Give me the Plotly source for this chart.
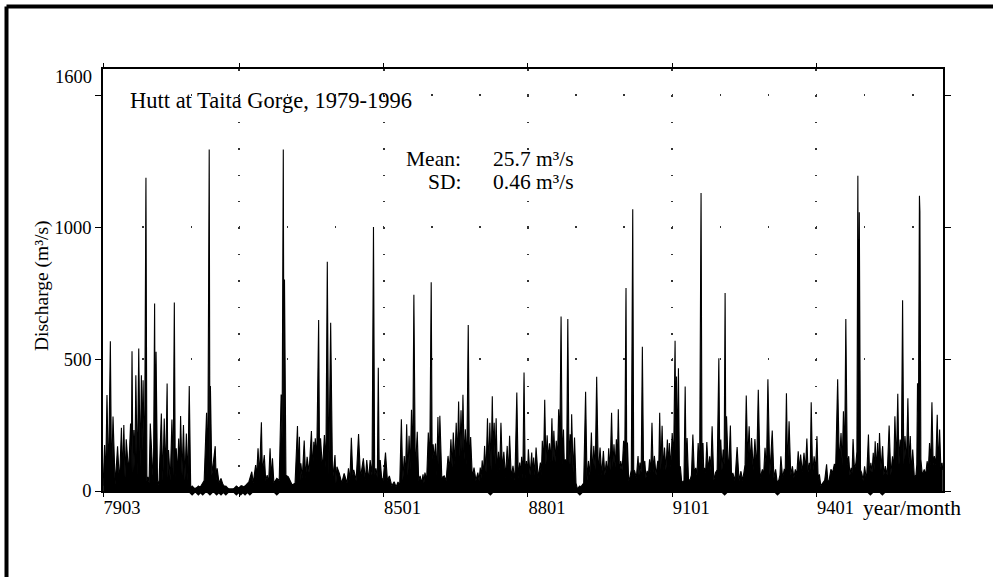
import plotly.graph_objects as go

# ---------------- data ----------------
# decimal year, daily discharge (m3/s): peaks and the low flows between them
years_a = [1979.17, 1979.20, 1979.22, 1979.25, 1979.28, 1979.32, 1979.345, 1979.375, 1979.42, 1979.47,
           1979.51, 1979.55, 1979.575, 1979.60, 1979.625, 1979.65, 1979.70, 1979.74, 1979.755, 1979.77,
           1979.79, 1979.81, 1979.83, 1979.85, 1979.88, 1979.91, 1979.94, 1979.965, 1979.98, 1980.00,
           1980.03, 1980.06, 1980.08, 1980.10, 1980.125, 1980.15, 1980.19, 1980.215, 1980.24, 1980.255,
           1980.27, 1980.30, 1980.33, 1980.38, 1980.41, 1980.44, 1980.47, 1980.50, 1980.515, 1980.53,
           1980.565, 1980.60, 1980.625, 1980.65, 1980.67, 1980.69, 1980.715, 1980.74, 1980.76, 1980.78,
           1980.81, 1980.84, 1980.87, 1980.90, 1980.93, 1980.96, 1980.99, 1981.05, 1981.12, 1981.20,
           1981.27, 1981.32, 1981.345, 1981.375, 1981.39, 1981.40, 1981.43, 1981.50, 1981.52, 1981.54,
           1981.58, 1981.62, 1981.66, 1981.70, 1981.73]
flow_a = [20, 174, 30, 364, 40, 568, 50, 282, 25, 170,
          30, 240, 60, 250, 50, 196, 70, 256, 80, 530,
          70, 231, 90, 439, 60, 540, 90, 439, 150, 420,
          80, 1188, 40, 54, 30, 256, 111, 30, 711, 60,
          528, 40, 23, 294, 40, 275, 60, 408, 50, 155,
          40, 271, 60, 715, 50, 162, 60, 199, 70, 284,
          60, 250, 40, 218, 40, 398, 15, 8, 12, 18,
          40, 297, 60, 1295, 100, 398, 60, 170, 40, 86,
          30, 48, 25, 16, 10]

years_b = [1981.92, 1981.96, 1982.00, 1982.05, 1982.10, 1982.15, 1982.20, 1982.26, 1982.29, 1982.34,
           1982.36, 1982.39, 1982.42, 1982.46, 1982.48, 1982.52, 1982.55, 1982.58, 1982.61, 1982.64,
           1982.665, 1982.69, 1982.72, 1982.78, 1982.83, 1982.87, 1982.89, 1982.915, 1982.93, 1982.94,
           1982.97, 1983.02, 1983.10, 1983.16, 1983.21, 1983.23, 1983.25, 1983.265, 1983.28, 1983.31,
           1983.35, 1983.38, 1983.41, 1983.45, 1983.50, 1983.525, 1983.55, 1983.565, 1983.58, 1983.61,
           1983.65, 1983.67, 1983.69, 1983.73, 1983.77, 1983.80, 1983.83, 1983.86, 1983.90, 1983.94,
           1983.99, 1984.01, 1984.03, 1984.08, 1984.13, 1984.18, 1984.24, 1984.27, 1984.30, 1984.33,
           1984.36, 1984.38, 1984.43, 1984.48, 1984.52, 1984.58, 1984.62, 1984.65, 1984.69, 1984.72,
           1984.76, 1984.79, 1984.815, 1984.84, 1984.87, 1984.89, 1984.91, 1984.93, 1984.96, 1984.99]
flow_b = [10, 15, 10, 20, 15, 25, 35, 73, 30, 98,
          50, 162, 60, 261, 70, 136, 40, 60, 30, 162,
          50, 124, 30, 48, 40, 366, 200, 1295, 250, 802,
          60, 54, 23, 30, 246, 60, 206, 40, 105, 50,
          191, 50, 130, 70, 227, 80, 187, 100, 200, 120,
          648, 100, 200, 80, 212, 90, 869, 60, 638, 40,
          136, 30, 92, 67, 30, 67, 30, 86, 40, 202,
          60, 80, 40, 216, 50, 124, 40, 117, 40, 117,
          60, 1001, 60, 86, 50, 467, 60, 117, 50, 40]

years_c = [1985.04, 1985.08, 1985.12, 1985.17, 1985.22, 1985.26, 1985.30, 1985.335, 1985.37, 1985.40,
           1985.43, 1985.455, 1985.48, 1985.505, 1985.53, 1985.555, 1985.58, 1985.605, 1985.63, 1985.66,
           1985.70, 1985.73, 1985.76, 1985.79, 1985.82, 1985.84, 1985.86, 1985.895, 1985.93, 1985.96,
           1985.99, 1986.01, 1986.03, 1986.055, 1986.08, 1986.105, 1986.13, 1986.15, 1986.17, 1986.21,
           1986.26, 1986.30, 1986.34, 1986.37, 1986.40, 1986.425, 1986.45, 1986.48, 1986.51, 1986.535,
           1986.56, 1986.585, 1986.61, 1986.63, 1986.65, 1986.675, 1986.70, 1986.73, 1986.76, 1986.785,
           1986.81, 1986.845, 1986.88, 1986.92, 1986.96, 1986.985, 1987.01, 1987.03, 1987.05, 1987.075,
           1987.10, 1987.13, 1987.16, 1987.185, 1987.21, 1987.235, 1987.26, 1987.28, 1987.30, 1987.32,
           1987.34, 1987.365, 1987.39, 1987.415, 1987.44, 1987.47, 1987.50, 1987.535, 1987.57, 1987.595,
           1987.62, 1987.655, 1987.69, 1987.73, 1987.77, 1987.80, 1987.83, 1987.85, 1987.87, 1987.895,
           1987.92, 1987.945, 1987.97, 1987.99]
flow_c = [146, 40, 57, 20, 35, 15, 34, 20, 272, 40,
          133, 50, 253, 60, 209, 80, 308, 100, 744, 70,
          225, 40, 57, 30, 63, 30, 70, 40, 222, 110,
          791, 120, 177, 120, 180, 60, 281, 100, 285, 50,
          57, 40, 133, 80, 196, 90, 222, 100, 259, 120,
          339, 130, 306, 150, 365, 120, 234, 100, 629, 80,
          205, 50, 89, 40, 70, 40, 89, 50, 116, 60,
          171, 70, 276, 90, 259, 80, 359, 130, 259, 100,
          276, 70, 149, 80, 259, 80, 149, 50, 171, 60,
          209, 50, 95, 40, 373, 50, 108, 60, 130, 50,
          449, 50, 114, 60]

years_d = [1988.01, 1988.045, 1988.08, 1988.10, 1988.12, 1988.145, 1988.17, 1988.215, 1988.26, 1988.28,
           1988.30, 1988.325, 1988.35, 1988.375, 1988.40, 1988.425, 1988.45, 1988.475, 1988.50, 1988.52,
           1988.54, 1988.565, 1988.59, 1988.615, 1988.64, 1988.665, 1988.69, 1988.715, 1988.74, 1988.76,
           1988.78, 1988.805, 1988.83, 1988.855, 1988.88, 1988.895, 1988.91, 1988.94, 1988.97, 1989.00,
           1989.03, 1989.08, 1989.12, 1989.16, 1989.20, 1989.23, 1989.26, 1989.29, 1989.32, 1989.345,
           1989.37, 1989.40, 1989.43, 1989.465, 1989.50, 1989.535, 1989.57, 1989.60, 1989.63, 1989.655,
           1989.68, 1989.71, 1989.74, 1989.765, 1989.79, 1989.815, 1989.84, 1989.86, 1989.88, 1989.905,
           1989.93, 1989.96, 1989.99, 1990.015, 1990.04, 1990.055, 1990.07, 1990.095, 1990.12, 1990.15,
           1990.18, 1990.20, 1990.22, 1990.255, 1990.29, 1990.31, 1990.33, 1990.355, 1990.38, 1990.405,
           1990.43, 1990.455, 1990.48, 1990.505, 1990.53, 1990.555, 1990.58, 1990.605, 1990.63, 1990.665,
           1990.70, 1990.72, 1990.74, 1990.765, 1990.79, 1990.815, 1990.84, 1990.87, 1990.90, 1990.92,
           1990.94, 1990.97]
flow_d = [158, 60, 146, 60, 127, 60, 165, 50, 108, 60,
          190, 100, 346, 100, 211, 120, 181, 110, 276, 110,
          228, 110, 190, 120, 310, 200, 662, 100, 233, 80,
          120, 80, 652, 100, 215, 100, 291, 70, 203, 30,
          8, 10, 19, 30, 376, 40, 114, 60, 222, 60,
          171, 80, 433, 60, 165, 60, 152, 60, 114, 60,
          162, 80, 297, 90, 177, 90, 196, 100, 310, 60,
          114, 80, 190, 150, 770, 100, 184, 40, 51, 80,
          1068, 80, 76, 50, 133, 60, 108, 70, 547, 80,
          114, 50, 76, 60, 120, 70, 259, 70, 133, 60,
          114, 80, 297, 80, 247, 80, 165, 80, 195, 90,
          182, 90]

years_e = [1991.00, 1991.03, 1991.06, 1991.075, 1991.09, 1991.11, 1991.13, 1991.15, 1991.17, 1991.195,
           1991.22, 1991.245, 1991.27, 1991.29, 1991.31, 1991.34, 1991.375, 1991.40, 1991.43, 1991.46,
           1991.49, 1991.515, 1991.54, 1991.57, 1991.60, 1991.62, 1991.64, 1991.655, 1991.67, 1991.695,
           1991.72, 1991.75, 1991.78, 1991.805, 1991.83, 1991.865, 1991.90, 1991.935, 1991.97, 1991.99,
           1992.01, 1992.035, 1992.06, 1992.08, 1992.10, 1992.115, 1992.13, 1992.17, 1992.21, 1992.235,
           1992.26, 1992.305, 1992.35, 1992.39, 1992.43, 1992.46, 1992.49, 1992.515, 1992.54, 1992.57,
           1992.60, 1992.625, 1992.65, 1992.685, 1992.72, 1992.755, 1992.79, 1992.83, 1992.875, 1992.90,
           1992.93, 1992.96, 1992.99, 1993.03, 1993.08, 1993.115, 1993.15, 1993.185, 1993.22, 1993.24,
           1993.26, 1993.295, 1993.33, 1993.35, 1993.375, 1993.40, 1993.43, 1993.465, 1993.50, 1993.53,
           1993.56, 1993.59, 1993.62, 1993.645, 1993.67, 1993.705, 1993.74, 1993.77, 1993.80, 1993.825,
           1993.85, 1993.87, 1993.89, 1993.92, 1993.95, 1993.98]
flow_e = [220, 120, 570, 150, 434, 120, 465, 80, 94, 40,
          31, 40, 396, 80, 201, 40, 44, 60, 214, 70,
          88, 60, 182, 80, 1130, 100, 182, 80, 88, 70,
          186, 80, 132, 80, 245, 40, 69, 80, 503, 100,
          195, 80, 157, 100, 751, 120, 283, 60, 248, 50,
          69, 40, 167, 40, 75, 40, 69, 100, 362, 120,
          245, 100, 201, 80, 197, 80, 384, 50, 82, 60,
          164, 80, 424, 60, 229, 50, 82, 30, 44, 60,
          132, 50, 82, 80, 371, 80, 264, 60, 94, 50,
          82, 60, 151, 80, 138, 70, 145, 80, 199, 70,
          107, 80, 336, 60, 132, 80]

years_f = [1994.01, 1994.035, 1994.06, 1994.09, 1994.125, 1994.17, 1994.21, 1994.235, 1994.26, 1994.28,
           1994.30, 1994.335, 1994.37, 1994.40, 1994.44, 1994.475, 1994.51, 1994.535, 1994.56, 1994.585,
           1994.61, 1994.64, 1994.67, 1994.695, 1994.72, 1994.74, 1994.76, 1994.79, 1994.82, 1994.84,
           1994.86, 1994.875, 1994.89, 1994.915, 1994.94, 1994.97, 1995.00, 1995.04, 1995.08, 1995.105,
           1995.13, 1995.155, 1995.18, 1995.20, 1995.22, 1995.245, 1995.27, 1995.29, 1995.31, 1995.34,
           1995.375, 1995.40, 1995.43, 1995.47, 1995.51, 1995.545, 1995.58, 1995.605, 1995.63, 1995.66,
           1995.69, 1995.715, 1995.74, 1995.765, 1995.79, 1995.815, 1995.84, 1995.87, 1995.90, 1995.925,
           1995.95, 1995.975, 1996.00, 1996.035, 1996.07, 1996.085, 1996.10, 1996.12, 1996.14, 1996.15,
           1996.17, 1996.20, 1996.24, 1996.27, 1996.30, 1996.325, 1996.35, 1996.375, 1996.40, 1996.425,
           1996.45, 1996.48, 1996.51, 1996.535, 1996.56, 1996.585, 1996.61, 1996.625]
flow_f = [208, 40, 63, 20, 29, 40, 101, 40, 38, 60,
          82, 70, 101, 100, 424, 100, 220, 100, 302, 120,
          652, 100, 132, 60, 88, 70, 197, 80, 107, 150,
          1195, 400, 1057, 80, 69, 40, 94, 40, 214, 60,
          107, 70, 145, 80, 189, 80, 182, 80, 220, 80,
          170, 60, 94, 60, 248, 60, 132, 80, 283, 100,
          369, 100, 195, 140, 723, 100, 208, 100, 352, 100,
          208, 60, 157, 50, 63, 100, 409, 300, 1119, 1060,
          120, 60, 82, 60, 113, 80, 182, 100, 336, 100,
          132, 100, 289, 90, 233, 90, 107, 80]

# low-flow points drawn with diamond symbols along the base line
dip_years = [1981.02, 1981.15, 1981.24, 1981.39, 1981.53, 1981.62, 1981.72, 1981.94, 1982.03,
             1982.12, 1982.22, 1982.78, 1987.22, 1989.08, 1992.09, 1993.19, 1995.12, 1995.37]
dip_flow = [2] * len(dip_years)

x_tick_years = [1979.167, 1982.0, 1985.0, 1988.0, 1991.0, 1994.0]
x_tick_text = ["7903", "", "8501", "8801", "9101", "9401"]
y_tick_vals = [0, 500, 1000, 1500]
y_tick_text = ["0", "500", "1000", ""]

# ---------------- figure ----------------
years = years_a + [None] + years_b + years_c + years_d + years_e + years_f
flow = flow_a + [None] + flow_b + flow_c + flow_d + flow_e + flow_f

SERIF = "Liberation Serif, Times New Roman, serif"
fig = go.Figure()
fig.add_trace(go.Scatter(x=years, y=flow, mode="lines", connectgaps=False,
                         line=dict(color="black", width=1.1),
                         fill="tozeroy", fillcolor="black", hoverinfo="skip"))
fig.add_trace(go.Scatter(x=dip_years, y=dip_flow, mode="markers", cliponaxis=False,
                         marker=dict(symbol="diamond", size=8, color="black"), hoverinfo="skip"))

PL, PR, PT, PB = 103, 50, 69, 86
W, H = 993, 577
pw, ph = W - PL - PR, H - PT - PB


def px(xpix):
    return (xpix - PL) / pw


def py(ypix):
    return (H - PB - ypix) / ph


fig.update_layout(
    width=W, height=H, showlegend=False,
    margin=dict(l=PL, r=PR, t=PT, b=PB, pad=0),
    paper_bgcolor="white", plot_bgcolor="white",
    font=dict(family=SERIF, color="black", size=18),
    xaxis=dict(range=[1979.167, 1996.63], tickmode="array", tickvals=x_tick_years,
               ticktext=x_tick_text, ticks="outside", ticklen=4, tickwidth=1.2, tickcolor="black",
               showline=True, linecolor="black", linewidth=1.5, mirror="ticks",
               showgrid=True, gridcolor="#333", gridwidth=1.5, griddash="1.5px,24.9px",
               zeroline=False, ticklabelshift=19, ticklabelstandoff=-5,
               tickfont=dict(size=18.5, family=SERIF)),
    yaxis=dict(range=[0, 1600], tickmode="array", tickvals=y_tick_vals, ticktext=y_tick_text,
               ticks="outside", ticklen=6, tickwidth=1.2, tickcolor="black",
               showline=True, linecolor="black", linewidth=1.5, mirror="ticks",
               showgrid=True, gridcolor="#333", gridwidth=1.5,
               griddash="0px,39.4px,1.5px,7.2px",
               zeroline=False, tickfont=dict(size=18.5, family=SERIF)),
)

ann = [
    dict(text="Hutt at Taita Gorge, 1979-1996", x=px(128), y=py(100), xanchor="left",
         yanchor="middle", font=dict(size=22.5)),
    dict(text="Mean:", x=px(463), y=py(159), xanchor="right", yanchor="middle", font=dict(size=21.5)),
    dict(text="25.7 m³/s", x=px(491), y=py(159), xanchor="left", yanchor="middle", font=dict(size=21.5)),
    dict(text="SD:", x=px(463), y=py(182), xanchor="right", yanchor="middle", font=dict(size=21.5)),
    dict(text="0.46 m³/s", x=px(491), y=py(182), xanchor="left", yanchor="middle", font=dict(size=21.5)),
    dict(text="year/month", x=px(861), y=py(508), xanchor="left", yanchor="middle", font=dict(size=21.5)),
    dict(text="1600", x=px(94), y=py(77), xanchor="right", yanchor="middle", font=dict(size=18.5)),
    dict(text="Discharge (m³/s)", x=px(42), y=py(285), xanchor="center", yanchor="middle",
         textangle=-90, font=dict(size=19.5)),
]
for a in ann:
    a.update(xref="paper", yref="paper", showarrow=False)
fig.update_layout(annotations=ann)

# scanned page frame (left and top edges)
frame = dict(color="black", width=4)
fig.add_shape(type="line", xref="paper", yref="paper", x0=px(6.5), x1=px(1000), y0=py(6.5), y1=py(6.5), line=frame)
fig.add_shape(type="line", xref="paper", yref="paper", x0=px(6.5), x1=px(6.5), y0=py(6.5), y1=py(585), line=frame)

fig.write_html("out.html")
